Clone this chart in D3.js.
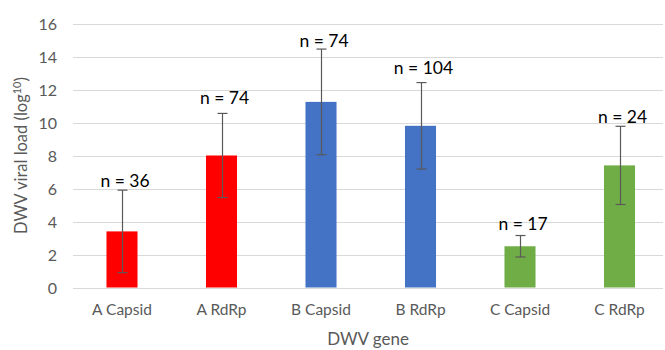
<!DOCTYPE html>
<html>
<head>
<meta charset="utf-8">
<script src="https://cdn.jsdelivr.net/npm/d3@7"></script>
<style>
  html, body { margin: 0; padding: 0; background: #fff; }
  svg { display: block; }
  text { font-family: Lato, "Open Sans", sans-serif; }
</style>
</head>
<body>
<svg id="chart" width="665" height="350"></svg>
<script>
// DWV viral load per gene (log10), with standard deviation and sample size
const genes = ["A Capsid", "A RdRp", "B Capsid", "B RdRp", "C Capsid", "C RdRp"];
const meanLoad = [3.4, 8.0, 11.25, 9.8, 2.5, 7.4];
const sdLoad = [2.5, 2.55, 3.2, 2.62, 0.65, 2.37];
const sampleSize = [36, 74, 74, 104, 17, 24];
// height (in log10 units) at which each sample-size note sits
const noteAt = [6.1, 11.1, 14.6, 12.95, 3.5, 10.0];
const barColors = ["#ff0000", "#ff0000", "#4472c4", "#4472c4", "#70ad47", "#70ad47"];
const yTicks = [0, 2, 4, 6, 8, 10, 12, 14, 16];

const svg = d3.select("#chart");
const plotLeft = 73, plotRight = 663, plotTop = 23.5, plotBottom = 287.5;

const x = d3.scaleBand()
  .domain(genes)
  .range([72.25, 669.25])
  .paddingInner(0.688)
  .paddingOuter(0.344);

const y = d3.scaleLinear().domain([0, 16]).range([plotBottom, plotTop]);

// horizontal gridlines
svg.append("g")
  .selectAll("line")
  .data(yTicks)
  .join("line")
  .attr("x1", plotLeft).attr("x2", plotRight)
  .attr("y1", d => Math.round(y(d)) + 0.5)
  .attr("y2", d => Math.round(y(d)) + 0.5)
  .attr("stroke", "#d9d9d9")
  .attr("stroke-width", 1);

// y axis tick labels
const yAxis = d3.axisLeft(y).tickValues(yTicks).tickSize(0).tickPadding(0);
const gy = svg.append("g").attr("transform", "translate(57,0)").call(yAxis);
gy.select(".domain").remove();
gy.selectAll("text")
  .attr("font-family", "Lato, sans-serif")
  .attr("font-size", "16px")
  .attr("fill", "#595959")
  .attr("dy", "0.36em");

// bars
const rows = genes.map((g, i) => ({
  gene: g, mean: meanLoad[i], sd: sdLoad[i], n: sampleSize[i],
  note: noteAt[i], color: barColors[i]
}));

svg.append("g")
  .selectAll("rect")
  .data(rows)
  .join("rect")
  .attr("x", d => x(d.gene))
  .attr("width", x.bandwidth())
  .attr("y", d => y(d.mean))
  .attr("height", d => y(0) - y(d.mean))
  .attr("fill", d => d.color);

// error bars
const eb = svg.append("g").attr("stroke", "#595959").attr("stroke-width", 1.2);
const cx = d => Math.round(x(d.gene) + x.bandwidth() / 2) + 0.5;
eb.selectAll(".stem").data(rows).join("line")
  .attr("x1", cx).attr("x2", cx)
  .attr("y1", d => y(d.mean + d.sd)).attr("y2", d => y(d.mean - d.sd));
eb.selectAll(".capTop").data(rows).join("line")
  .attr("x1", d => cx(d) - 5).attr("x2", d => cx(d) + 5)
  .attr("y1", d => y(d.mean + d.sd)).attr("y2", d => y(d.mean + d.sd));
eb.selectAll(".capBot").data(rows).join("line")
  .attr("x1", d => cx(d) - 5).attr("x2", d => cx(d) + 5)
  .attr("y1", d => y(d.mean - d.sd)).attr("y2", d => y(d.mean - d.sd));

// sample size notes
svg.append("g")
  .selectAll("text")
  .data(rows)
  .join("text")
  .attr("x", d => x(d.gene) + x.bandwidth() / 2 + 3)
  .attr("y", d => y(d.note))
  .attr("text-anchor", "middle")
  .attr("font-size", "17.5px")
  .attr("fill", "#000")
  .text(d => "n = " + d.n);

// x axis category labels
const xAxis = d3.axisBottom(x).tickSize(0).tickPadding(0);
const gx = svg.append("g").attr("transform", "translate(0,304)").call(xAxis);
gx.select(".domain").remove();
gx.selectAll("text")
  .attr("font-family", "Lato, sans-serif")
  .attr("font-size", "15.5px")
  .attr("fill", "#595959")
  .attr("dy", "0.71em");

// axis titles
svg.append("text")
  .attr("x", (plotLeft + plotRight) / 2)
  .attr("y", 345)
  .attr("text-anchor", "middle")
  .attr("font-size", "17px")
  .attr("fill", "#595959")
  .text("DWV gene");

const yTitle = svg.append("text")
  .attr("transform", `translate(27,${(plotTop + plotBottom) / 2}) rotate(-90)`)
  .attr("text-anchor", "middle")
  .attr("font-size", "16.5px")
  .attr("fill", "#595959");
yTitle.append("tspan").text("DWV viral load (log");
yTitle.append("tspan").attr("font-size", "11px").attr("dy", "-0.55em").text("10");
yTitle.append("tspan").attr("dy", "0.35em").text(")");
</script>
</body>
</html>
